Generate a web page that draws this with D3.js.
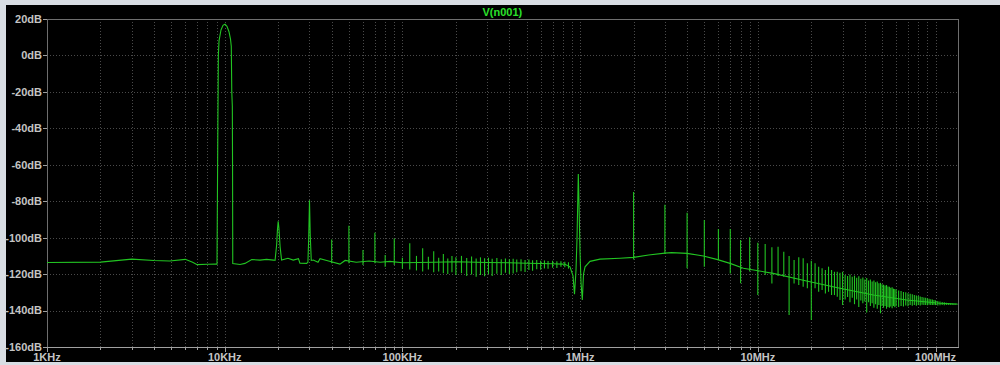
<!DOCTYPE html>
<html>
<head>
<meta charset="utf-8">
<script src="https://cdn.jsdelivr.net/npm/d3@7"></script>
<style>
  html, body { margin: 0; padding: 0; background: #000; }
  svg { display: block; }
</style>
</head>
<body>
<div class="fft-plot"></div>
<script>
// trace title
var traceName = 'V(n001)';

// smooth part of the trace (kHz, dB)
var baseKHz = [1.0, 2.0, 3.0, 4.0, 4.9, 6.0, 6.6, 7.0, 8.0, 8.9, 9.0,
  9.05, 9.15, 9.21, 9.29, 9.53, 9.78, 10.04, 10.3, 10.57, 10.78, 10.89, 10.96, 11.04, 11.07, 11.1,
  12.2, 13.0, 14.2, 15.8, 17.2, 18.8, 19.2, 19.6, 19.8, 20.0, 20.2, 20.5, 20.9,
  22.7, 24.3, 26.0, 26.5, 28.9, 29.4, 29.7, 30.0, 30.3, 30.7, 31.5, 33.5, 34.4, 37.5,
  44.5, 47.6, 55, 65, 75, 85, 100, 150, 200, 300, 400, 500, 600, 700, 800, 822,
  877, 912, 930, 948, 961, 977, 986, 999, 1012, 1029, 1045, 1066, 1137, 1294,
  1677, 2000, 2430, 3000, 3270, 4000, 4940, 5870, 6980, 8290, 12200, 18800,
  29000, 44700, 68800, 106000, 131600, 133300];
var baseDb = [-113.6, -113.4, -111.8, -112.5, -112.8, -111.9, -113.5, -114.8, -114.6, -114.5, -114.5,
  -114.5, -40, 0, 8, 14, 16.5, 17.1, 16, 13, 9, 5, -20, -28, -60, -114.2,
  -114.7, -114.1, -112, -112.3, -111.9, -112.3, -112.5, -104, -96, -91, -95, -105, -112.3,
  -111.3, -112.3, -111.5, -114, -114.1, -113.5, -100, -79.5, -99, -112.5, -112.3, -113.5, -111.5, -112.5,
  -114.5, -112.5, -113.5, -112.8, -113.5, -113, -113.8, -113.5, -113.2, -113.6, -113.8, -114, -114.2, -114.3, -114.5, -114.6,
  -116, -121, -131, -118, -100, -65, -82, -108, -125, -134.2, -120, -116, -113, -111.8,
  -111.3, -110.8, -109.5, -108.5, -108.2, -108.6, -110.1, -111.9, -114.1, -116.8, -119.6, -123.8,
  -127.8, -131.5, -134.2, -136.0, -136.4, -136.5];

// narrow harmonic spikes (kHz, top dB, bottom dB)
var spikeKHz = [40, 50, 60, 70, 80, 90,
  100, 110, 120, 130, 140, 150, 160, 170, 180, 190, 200, 215, 230, 245, 260, 275, 290, 305, 320,
  340, 360, 380, 400, 420, 440, 465, 490, 515, 540, 570, 600, 630, 660, 700, 740, 780, 820, 860,
  2000, 3000, 4000, 5000, 6000, 7000, 8000, 9000, 10000, 11000, 12000, 13000, 14000, 15000,
  16000, 17000, 18000, 19000, 20000, 21000, 22000, 23000, 24000, 25000, 26000, 27000, 28000, 29000, 30000,
  31000, 32000, 33000, 34000, 35000, 36000, 37000, 38000, 39000, 40000, 41000, 42000, 43000, 44000, 45000,
  46000, 47000, 48000, 49000, 50000, 51000, 52000, 53000, 54000, 55000, 56000, 57000, 58000, 59000, 60000,
  62000, 64000, 66000, 68000, 70000, 72000, 74000, 76000, 78000, 80000, 82000, 84000, 86000, 88000, 90000,
  92000, 94000, 96000, 98000, 100000, 103000, 106000, 109000, 112000, 115000, 118000, 121000, 124000, 127000, 130000];
var spikeTop = [-101, -93.5, -106.8, -97.3, -109.5, -100.4,
  -111, -103, -110, -105.8, -110.5, -107.5, -111, -109, -111.5, -110, -110.8, -110, -111.2, -110.4, -111.5, -110.8, -111.3, -111, -111.6,
  -111.2, -111.8, -111.4, -111.9, -111.6, -112, -111.8, -112.2, -112, -112.4, -112.3, -112.6, -112.5, -112.8, -112.7, -113, -113, -113.2, -113.5,
  -75, -82, -86.3, -90.3, -95.3, -95.3, -101.3, -99.8, -102.8, -103.5, -105.3, -105, -107.7, -110.1,
  -112.3, -110.8, -111.3, -114.1, -112.7, -114.1, -115.9, -116.8, -117.8, -115.9, -117.8, -118.7, -118.7, -119.2, -118.7,
  -120.5, -121, -120.2, -121.5, -120.8, -122, -121.2, -122.5, -121.8, -123, -122.2, -123.5, -123, -124, -123.5,
  -124.5, -124, -125, -124.8, -125.5, -125.8, -126.2, -126, -126.8, -127, -127.5, -127.2, -128, -128.2, -128.5,
  -129, -129.3, -129.8, -130, -130.5, -130.8, -131, -131.5, -131.8, -132, -132.3, -132.5, -132.8, -133, -133.3,
  -133.5, -133.8, -134, -134.2, -134.4, -134.7, -135, -135.3, -135.5, -135.7, -135.9, -136, -136.1, -136.2, -136.3];
var spikeBottom = [-114, -114, -115, -114, -116, -115,
  -117, -117.5, -118, -118.5, -117.5, -119, -118.5, -119.5, -120, -119, -120.5, -119.5, -121, -120.2, -121.4, -120.5, -121.2, -120, -121,
  -119.8, -120.5, -119.3, -120, -119.6, -119, -118.4, -118.9, -117.8, -118.2, -117.3, -117.6, -116.9, -117.1, -116.5, -116.6, -116, -116.2, -117,
  -112, -109, -116.8, -115.9, -112, -119.6, -125, -118.5, -131.5, -120.5, -125.1, -121.1, -121.5, -142.5,
  -125.1, -126, -126.9, -127.8, -145.2, -127.8, -129.7, -128.7, -130.6, -129.7, -131.5, -131.5, -132.4, -134.2, -137,
  -134, -132.5, -135.5, -133, -136.5, -134, -138, -134.5, -136, -135, -141, -135.5, -137.5, -136, -138.5,
  -136.5, -139, -137, -141.5, -137.5, -138.5, -137.5, -139, -138, -138.5, -137.8, -138.8, -137.5, -138.2, -137.6,
  -138, -137.5, -137.8, -137.2, -137.6, -137, -137.4, -137, -137.3, -136.9, -137.2, -136.8, -137, -136.9, -137.1,
  -136.8, -137, -136.9, -137, -137, -137.2, -137.1, -137, -137.1, -137, -137, -137, -136.9, -136.9, -136.8];

// axis ticks
var dbTicks = [20, 0, -20, -40, -60, -80, -100, -120, -140, -160];
var freqTicks = [1e3, 1e4, 1e5, 1e6, 1e7, 1e8];
var freqTickLabels = ['1KHz', '10KHz', '100KHz', '1MHz', '10MHz', '100MHz'];
var minorSteps = [1, 2, 3, 4, 5, 6, 7, 8, 9];

function draw() {
  var width = 1000, height = 365;
  var pLeft = 47, pRight = 957.7, pTop = 19, pBottom = 347;
  var traceColor = '#22c422';

  var svg = d3.select('.fft-plot').append('svg')
    .attr('width', width).attr('height', height);

  // window frame round the black plot area
  svg.append('rect').attr('width', width).attr('height', height).attr('fill', '#d8dde3');
  svg.append('rect').attr('x', 6).attr('y', 5).attr('width', width - 6).attr('height', 357).attr('fill', '#000');

  var x = d3.scaleLog().domain([1e3, 1.333e8]).range([pLeft, pRight]);
  var y = d3.scaleLinear().domain([-160, 20]).range([pBottom, pTop]);

  // grid lines
  var minorFreqs = [];
  freqTicks.forEach(function (d) {
    minorSteps.forEach(function (m) {
      var f = d * m;
      if (f > 1e3 && f < 1.333e8) minorFreqs.push(f);
    });
  });

  var grid = svg.append('g').attr('stroke', '#4a4a4a').attr('stroke-dasharray', '1,2')
    .attr('shape-rendering', 'crispEdges');
  grid.selectAll('.vgrid').data(minorFreqs).enter().append('line')
    .attr('x1', function (d) { return Math.round(x(d)) + 0.5; })
    .attr('x2', function (d) { return Math.round(x(d)) + 0.5; })
    .attr('y1', pTop).attr('y2', pBottom);
  grid.selectAll('.hgrid').data(dbTicks.slice(1, -1)).enter().append('line')
    .attr('x1', pLeft).attr('x2', pRight)
    .attr('y1', function (d) { return Math.round(y(d)) + 0.5; })
    .attr('y2', function (d) { return Math.round(y(d)) + 0.5; });

  // plot frame
  svg.append('rect').attr('x', pLeft + 0.5).attr('y', pTop + 0.5)
    .attr('width', pRight - pLeft).attr('height', pBottom - pTop)
    .attr('fill', 'none').attr('stroke', '#6e6e6e').attr('shape-rendering', 'crispEdges');
  svg.append('line').attr('x1', pLeft).attr('x2', pRight + 1)
    .attr('y1', pBottom + 0.5).attr('y2', pBottom + 0.5)
    .attr('stroke', '#a0a0a0').attr('shape-rendering', 'crispEdges');

  // tick marks
  var ticks = svg.append('g').attr('stroke', '#a0a0a0').attr('shape-rendering', 'crispEdges');
  ticks.selectAll('.ytick').data(dbTicks).enter().append('line')
    .attr('x1', pLeft - 4).attr('x2', pLeft)
    .attr('y1', function (d) { return Math.round(y(d)) + 0.5; })
    .attr('y2', function (d) { return Math.round(y(d)) + 0.5; });
  ticks.selectAll('.xminor').data(minorFreqs).enter().append('line')
    .attr('x1', function (d) { return Math.round(x(d)) + 0.5; })
    .attr('x2', function (d) { return Math.round(x(d)) + 0.5; })
    .attr('y1', pBottom).attr('y2', pBottom + 3);
  ticks.selectAll('.xmajor').data(freqTicks).enter().append('line')
    .attr('x1', function (d) { return Math.round(x(d)) + 0.5; })
    .attr('x2', function (d) { return Math.round(x(d)) + 0.5; })
    .attr('y1', pBottom).attr('y2', pBottom + 5);

  // labels
  var labelFont = '"Liberation Sans", Arial, sans-serif';
  svg.selectAll('.ylabel').data(dbTicks).enter().append('text')
    .attr('x', pLeft - 5)
    .attr('y', function (d) { return y(d); })
    .attr('dy', '0.35em')
    .attr('text-anchor', 'end')
    .style('font-family', labelFont).style('font-size', '11px').style('font-weight', 'bold')
    .style('fill', '#c4c4c4')
    .text(function (d) { return d + 'dB'; });

  svg.selectAll('.xlabel').data(freqTicks).enter().append('text')
    .attr('x', function (d) { return x(d); })
    .attr('y', 361)
    .attr('text-anchor', 'middle')
    .style('font-family', labelFont).style('font-size', '11px').style('font-weight', 'bold')
    .style('fill', '#c4c4c4')
    .text(function (d, i) { return freqTickLabels[i]; });

  svg.append('text')
    .attr('x', (pLeft + pRight) / 2).attr('y', 16)
    .attr('text-anchor', 'middle')
    .style('font-family', labelFont).style('font-size', '11px').style('font-weight', 'bold')
    .style('fill', '#2be02b')
    .text(traceName);

  // trace
  var plot = svg.append('g');
  var basePoints = baseKHz.map(function (f, i) { return [f * 1e3, baseDb[i]]; });
  var line = d3.line()
    .x(function (d) { return x(d[0]); })
    .y(function (d) { return y(d[1]); });

  plot.append('path')
    .datum(basePoints)
    .attr('d', line)
    .attr('fill', 'none')
    .attr('stroke', traceColor)
    .attr('stroke-width', 1.1);

  plot.selectAll('.spike').data(spikeKHz).enter().append('line')
    .attr('x1', function (d) { return x(d * 1e3); })
    .attr('x2', function (d) { return x(d * 1e3); })
    .attr('y1', function (d, i) { return y(spikeTop[i]); })
    .attr('y2', function (d, i) { return y(spikeBottom[i]); })
    .attr('stroke', traceColor)
    .attr('stroke-width', 1.1);
}

draw();
</script>
</body>
</html>
